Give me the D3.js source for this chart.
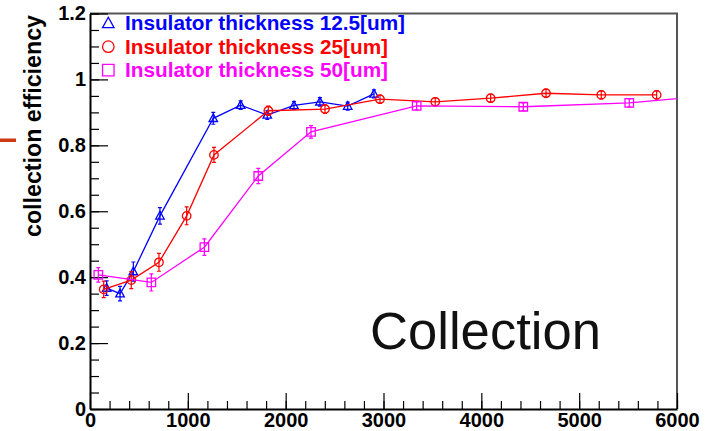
<!DOCTYPE html>
<html>
<head>
<meta charset="utf-8">
<script src="https://cdn.jsdelivr.net/npm/d3@7"></script>
<style>
  body { margin: 0; background: #fff; }
  text { font-family: "Liberation Sans", Arial, Helvetica, sans-serif; }
</style>
</head>
<body>
<svg id="chart" width="709" height="431"></svg>
<script>
// ---- data -------------------------------------------------------------
const xTickValues = [0, 1000, 2000, 3000, 4000, 5000, 6000];
const yTickValues = [0, 0.2, 0.4, 0.6, 0.8, 1, 1.2];

// Insulator thickness 12.5 um
const xThin = [170, 307, 443, 715, 1260, 1540, 1812, 2085, 2350, 2634, 2903];
const effThin = [0.367, 0.350, 0.417, 0.586, 0.882, 0.922, 0.892, 0.921, 0.932, 0.919, 0.956];
const errThin = [0.022, 0.022, 0.029, 0.025, 0.018, 0.013, 0.013, 0.012, 0.013, 0.012, 0.012];

// Insulator thickness 25 um
const xMid = [140, 422, 705, 988, 1267, 1823, 2402, 2964, 3529, 4095, 4661, 5226, 5792];
const effMid = [0.363, 0.391, 0.445, 0.586, 0.771, 0.905, 0.910, 0.940, 0.932, 0.943, 0.958, 0.953, 0.953];
const errMid = [0.025, 0.026, 0.027, 0.027, 0.023, 0.014, 0.013, 0.012, 0.012, 0.012, 0.012, 0.012, 0.012];

// Insulator thickness 50 um (last point lies past the axis range)
const xThick = [85, 627, 1169, 1720, 2259, 3339, 4429, 5512, 6500];
const effThick = [0.407, 0.384, 0.491, 0.707, 0.841, 0.920, 0.917, 0.929, 0.955];
const errThick = [0.022, 0.026, 0.025, 0.023, 0.019, 0.012, 0.012, 0.012, 0.012];

const legendLabels = [
  "Insulator thickness 12.5[um]",
  "Insulator thickness 25[um]",
  "Insulator thickness 50[um]"
];
const yTitle = "collection efficiency";
const panelLabel = "Collection";

// ---- setup ------------------------------------------------------------
const svg = d3.select("#chart");
const plot = { left: 90, right: 677, top: 13.5, bottom: 409 };

const x = d3.scaleLinear().domain([0, 6000]).range([plot.left, plot.right]);
const y = d3.scaleLinear().domain([0, 1.2]).range([plot.bottom, plot.top]);

svg.append("rect").attr("width", 709).attr("height", 431).attr("fill", "#fff");

svg.append("defs").append("clipPath").attr("id", "plot-clip")
  .append("rect")
  .attr("x", plot.left).attr("y", plot.top)
  .attr("width", plot.right - plot.left).attr("height", plot.bottom - plot.top);

// small mark at the far left edge
svg.append("rect").attr("x", 0).attr("y", 138.5).attr("width", 16).attr("height", 3.5)
  .attr("fill", "#cc3a14");

// ---- frame (top/right) ------------------------------------------------
svg.append("path")
  .attr("d", `M${plot.left},${plot.top}H${plot.right}V${plot.bottom}`)
  .attr("fill", "none").attr("stroke", "#555").attr("stroke-width", 2);

// ---- axes -------------------------------------------------------------
function styleAxis(g) {
  g.select(".domain").attr("stroke", "#000").attr("stroke-width", 2);
  g.selectAll(".tick line").attr("stroke", "#000").attr("stroke-width", 1.2);
  g.selectAll(".tick text")
    .attr("fill", "#000")
    .style("font-weight", "bold")
    .style("font-size", "20px");
}

// minor ticks
svg.append("g")
  .attr("transform", `translate(0,${plot.bottom})`)
  .call(d3.axisBottom(x).tickValues(d3.range(0, 31).map(i => i * 200))
    .tickSize(-8).tickSizeOuter(0).tickFormat(""))
  .call(g => { g.select(".domain").remove(); g.selectAll(".tick line").attr("stroke", "#000").attr("stroke-width", 1.2); });

svg.append("g")
  .attr("transform", `translate(${plot.left},0)`)
  .call(d3.axisLeft(y).tickValues(d3.range(0, 25).map(i => i * 0.05))
    .tickSize(-9).tickSizeOuter(0).tickFormat(""))
  .call(g => { g.select(".domain").remove(); g.selectAll(".tick line").attr("stroke", "#000").attr("stroke-width", 1.2); });

// major ticks with labels
svg.append("g")
  .attr("transform", `translate(0,${plot.bottom})`)
  .call(d3.axisBottom(x).tickValues(xTickValues).tickSize(-16).tickSizeOuter(0)
    .tickPadding(4).tickFormat(d3.format("d")))
  .call(styleAxis);

svg.append("g")
  .attr("transform", `translate(${plot.left},0)`)
  .call(d3.axisLeft(y).tickValues(yTickValues).tickSize(-18).tickSizeOuter(0)
    .tickPadding(4).tickFormat(d => d3.format("")(+d.toFixed(1))))
  .call(styleAxis);

// y axis title
svg.append("text")
  .attr("transform", "translate(41,237) rotate(-90)")
  .attr("text-anchor", "start")
  .style("font-weight", "bold")
  .style("font-size", "23px")
  .attr("textLength", 222)
  .attr("lengthAdjust", "spacingAndGlyphs")
  .attr("fill", "#000")
  .text(yTitle);

// ---- series -----------------------------------------------------------
const series = [
  { xs: xThin,  ys: effThin,  es: errThin,  color: "#0000ff", marker: "triangle" },
  { xs: xMid,   ys: effMid,   es: errMid,   color: "#ff0000", marker: "circle" },
  { xs: xThick, ys: effThick, es: errThick, color: "#ff00ff", marker: "square" }
];

function markerPath(type, s) {
  if (type === "circle") {
    const r = s / 2;
    return `M${-r},0A${r},${r} 0 1,0 ${r},0A${r},${r} 0 1,0 ${-r},0Z`;
  }
  if (type === "square") {
    const h = s / 2;
    return `M${-h},${-h}H${h}V${h}H${-h}Z`;
  }
  const h = s / 2;
  return `M0,${-h * 1.05}L${h},${h * 0.75}H${-h}Z`;
}

const body = svg.append("g").attr("clip-path", "url(#plot-clip)");
const line = d3.line().x(d => x(d.v)).y(d => y(d.e));

series.forEach(s => {
  const pts = s.xs.map((v, i) => ({ v, e: s.ys[i], err: s.es[i] }));
  const g = body.append("g");

  g.append("path").datum(pts)
    .attr("d", line)
    .attr("fill", "none")
    .attr("stroke", s.color)
    .attr("stroke-width", 1.3);

  // vertical error bars with caps
  g.selectAll(".err").data(pts).join("path")
    .attr("d", d => {
      const cx = x(d.v), y0 = y(d.e - d.err), y1 = y(d.e + d.err);
      return `M${cx},${y0}V${y1}M${cx - 2},${y0}H${cx + 2}M${cx - 2},${y1}H${cx + 2}`;
    })
    .attr("fill", "none").attr("stroke", s.color).attr("stroke-width", 1.2);

  g.selectAll(".mk").data(pts).join("path")
    .attr("transform", d => `translate(${x(d.v)},${y(d.e)})`)
    .attr("d", markerPath(s.marker, 8.5))
    .attr("fill", "none").attr("stroke", s.color).attr("stroke-width", 1.3);
});

// ---- legend -----------------------------------------------------------
const legendWidths = [280, 263, 263];
const legend = svg.append("g");
legendLabels.forEach((label, i) => {
  const s = series[i];
  const cy = 23.3 + i * 23.4;
  legend.append("path")
    .attr("transform", `translate(108.3,${cy})`)
    .attr("d", markerPath(s.marker, 11.5))
    .attr("fill", "none").attr("stroke", s.color).attr("stroke-width", 1.3);
  legend.append("text")
    .attr("x", 125).attr("y", cy + 7)
    .attr("fill", s.color)
    .style("font-weight", "bold")
    .style("font-size", "20.5px")
    .attr("textLength", legendWidths[i])
    .attr("lengthAdjust", "spacingAndGlyphs")
    .text(label);
});

// ---- panel label ------------------------------------------------------
svg.append("text")
  .attr("x", 370).attr("y", 349)
  .attr("fill", "#111")
  .style("font-size", "51px")
  .attr("textLength", 231)
  .attr("lengthAdjust", "spacingAndGlyphs")
  .text(panelLabel);
</script>
</body>
</html>
